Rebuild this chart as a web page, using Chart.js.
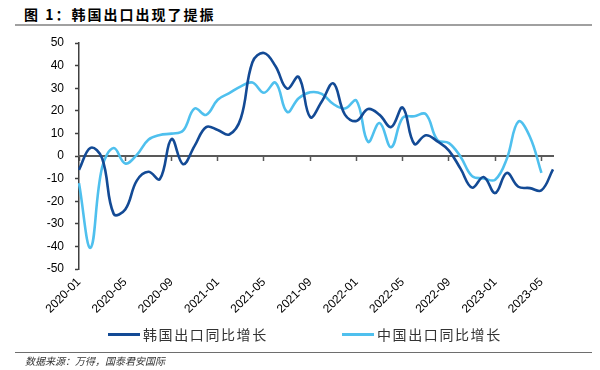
<!DOCTYPE html>
<html>
<head>
<meta charset="utf-8">
<script src="https://cdn.jsdelivr.net/npm/chart.js@4/dist/chart.umd.min.js"></script>
<style>
  html,body{margin:0;padding:0;background:#fff;}
  body{width:600px;height:370px;position:relative;overflow:hidden;font-family:"Liberation Sans",Arial,sans-serif;}
  #title{position:absolute;left:24px;top:6px;font-family:"Noto Sans CJK SC",sans-serif;font-weight:bold;font-size:14px;letter-spacing:2px;line-height:16px;color:#000;white-space:nowrap;}
  #rule1{position:absolute;left:15px;top:24px;width:577px;height:2px;background:#a0a0a0;}
  #rule2{position:absolute;left:15px;top:352px;width:577px;height:1px;background:#6e6e6e;}
  #source{position:absolute;left:25px;top:354px;font-family:"Noto Sans CJK SC",sans-serif;font-style:italic;font-size:10px;line-height:13px;color:#333;white-space:nowrap;}
  #chartwrap{position:absolute;left:0;top:0;width:600px;height:370px;}
  .leg{position:absolute;top:325px;height:18px;display:flex;align-items:center;white-space:nowrap;font-family:"Noto Sans CJK SC",sans-serif;font-size:14px;letter-spacing:1.6px;color:#333;}
  .leg i{display:inline-block;width:32px;height:3px;margin-right:3px;}
</style>
</head>
<body>
<div id="title">图 1：韩国出口出现了提振</div>
<div id="rule1"></div>
<div id="chartwrap"><canvas id="c" width="600" height="370"></canvas></div>
<div class="leg" id="leg1" style="left:108px;"><i id="sw1"></i><span id="lt1"></span></div>
<div class="leg" id="leg2" style="left:342px;"><i id="sw2"></i><span id="lt2"></span></div>
<div id="rule2"></div>
<div id="source">数据来源：万得，国泰君安国际</div>
<script>
// ---- data ----
const months = [
  '2020-01','2020-02','2020-03','2020-04','2020-05','2020-06','2020-07','2020-08','2020-09','2020-10','2020-11','2020-12',
  '2021-01','2021-02','2021-03','2021-04','2021-05','2021-06','2021-07','2021-08','2021-09','2021-10','2021-11','2021-12',
  '2022-01','2022-02','2022-03','2022-04','2022-05','2022-06','2022-07','2022-08','2022-09','2022-10','2022-11','2022-12',
  '2023-01','2023-02','2023-03','2023-04','2023-05','2023-06'
];
const koreaExport = [
  -6.1, 3.6, -1.0, -25.6, -23.7, -10.9, -7.0, -10.2, 7.5, -3.6, 4.5, 12.8,
  11.5, 9.5, 16.7, 41.5, 45.6, 39.7, 29.8, 35.0, 17.2, 24.1, 32.1, 18.3,
  15.5, 20.8, 18.2, 12.8, 21.4, 5.4, 9.2, 6.5, 2.4, -5.6, -14.0, -9.3,
  -16.4, -7.5, -13.6, -14.2, -15.2, -5.9
];
const chinaExport = [
  -12.0, -40.6, -5.0, 3.5, -3.3, 0.5, 7.2, 9.3, 9.9, 11.2, 21.0, 18.2,
  24.9, 27.8, 30.8, 32.5, 28.0, 32.4, 19.5, 25.6, 28.2, 27.5, 23.0, 21.0,
  24.5, 6.3, 14.6, 3.9, 16.9, 17.6, 18.5, 7.1, 5.7, -0.3, -8.9, -9.9,
  -10.5, -1.3, 15.2, 8.5, -7.5, null
];
const seriesNames = ['韩国出口同比增长', '中国出口同比增长'];
const yTicks = [-50, -40, -30, -20, -10, 0, 10, 20, 30, 40, 50];
const labelEvery = 4;

const darkBlue = '#134A95';
const lightBlue = '#4FC0EE';

document.getElementById('lt1').textContent = seriesNames[0];
document.getElementById('lt2').textContent = seriesNames[1];
document.getElementById('sw1').style.background = darkBlue;
document.getElementById('sw2').style.background = lightBlue;

const tickFont = {family: '"Liberation Sans", Arial, sans-serif', size: 12};

new Chart(document.getElementById('c'), {
  type: 'line',
  data: {
    labels: months,
    datasets: [
      {label: seriesNames[0], data: koreaExport, borderColor: darkBlue, backgroundColor: darkBlue,
       borderWidth: 2.6, pointRadius: 0, tension: 0.4, fill: false},
      {label: seriesNames[1], data: chinaExport, borderColor: lightBlue, backgroundColor: lightBlue,
       borderWidth: 2.6, pointRadius: 0, tension: 0.4, fill: false}
    ]
  },
  options: {
    responsive: false,
    devicePixelRatio: 1,
    animation: false,
    layout: {padding: {left: 0, top: 43, right: 47, bottom: 0}},
    plugins: {legend: {display: false}, title: {display: false}, tooltip: {enabled: false}},
    scales: {
      y: {
        min: yTicks[0], max: yTicks[yTicks.length - 1],
        afterBuildTicks: (s) => { s.ticks = yTicks.map(v => ({value: v})); },
        ticks: {font: tickFont, color: '#000', padding: 11},
        grid: {drawOnChartArea: false, drawTicks: true, tickLength: 4, tickColor: '#404040', tickWidth: 1.5},
        border: {display: true, color: '#404040', width: 1.5},
        afterFit: (s) => { s.width = 79; }
      },
      x: {
        position: 'bottom',
        offset: false,
        grid: {display: false, drawTicks: false},
        border: {display: false},
        ticks: {
          autoSkip: false, maxRotation: 45, minRotation: 45, font: tickFont, color: '#000', padding: 6,
          callback: (v, i) => (i % labelEvery === 0 ? months[i] : null)
        },
        afterFit: (s) => { s.height = 101; }
      },
      x2: {
        type: 'category',
        position: {y: 0},
        offset: false,
        grid: {drawOnChartArea: false, drawTicks: true, tickLength: 4, tickWidth: 1.5,
               tickColor: (ctx) => (ctx.index % labelEvery === 0 ? '#595959' : 'rgba(0,0,0,0)')},
        border: {display: true, color: '#595959', width: 2},
        ticks: {display: false, autoSkip: false}
      }
    }
  }
});
</script>
</body>
</html>
